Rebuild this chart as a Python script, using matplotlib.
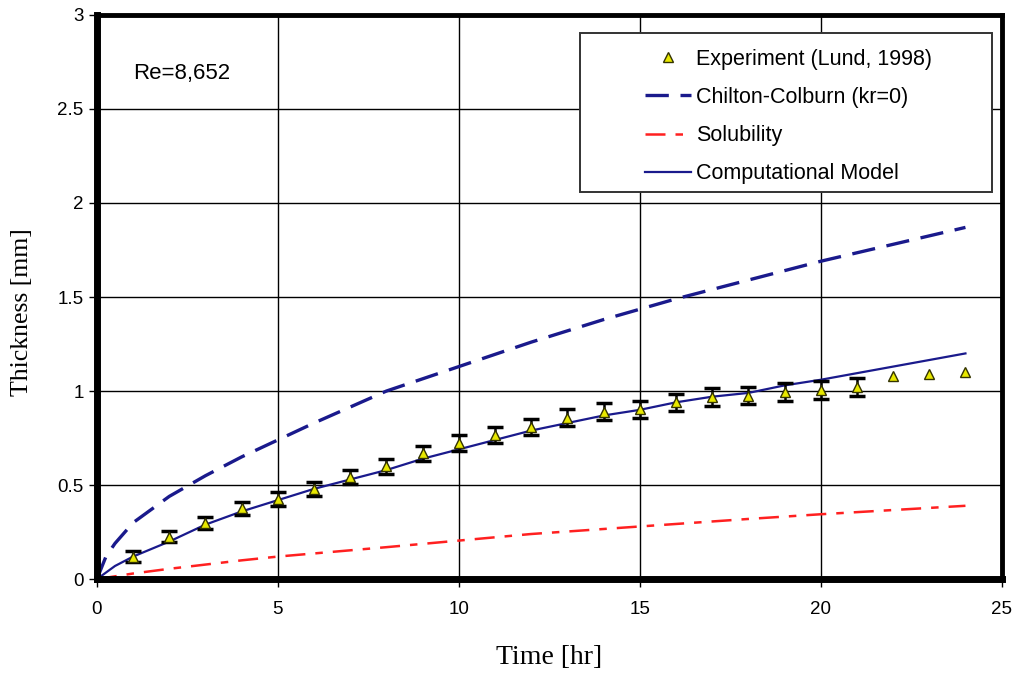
import numpy as np
import matplotlib.pyplot as plt
from matplotlib.patches import Rectangle

# experiment (Lund, 1998)
exp_t = [1, 2, 3, 4, 5, 6, 7, 8, 9, 10, 11, 12, 13, 14, 15, 16, 17, 18, 19, 20, 21, 22, 23, 24]
exp_y = [0.12, 0.225, 0.30, 0.376, 0.426, 0.479, 0.544, 0.60, 0.668, 0.722, 0.766, 0.81,
         0.858, 0.89, 0.904, 0.94, 0.968, 0.975, 0.996, 1.005, 1.02, 1.08, 1.09, 1.10]
exp_err = [0.028, 0.03, 0.032, 0.034, 0.036, 0.036, 0.038, 0.04, 0.04, 0.042, 0.042, 0.042,
           0.044, 0.044, 0.045, 0.046, 0.046, 0.046, 0.047, 0.047, 0.048, 0, 0, 0]

# Chilton-Colburn (kr=0)
cc_t = [0, 0.25, 0.5, 1, 2, 3, 4, 5, 6, 8, 10, 12, 14, 16, 18, 20, 22, 24]
cc_y = [0, 0.12, 0.19, 0.30, 0.44, 0.55, 0.65, 0.74, 0.83, 1.0, 1.13, 1.26, 1.38, 1.49, 1.59, 1.69, 1.78, 1.87]

# Solubility
sol_t = [0, 1, 2, 4, 5, 8, 10, 12, 15, 18, 20, 24]
sol_y = [0, 0.03, 0.055, 0.10, 0.12, 0.17, 0.205, 0.24, 0.28, 0.32, 0.345, 0.39]

# Computational model
mod_t = [0, 0.5, 1, 2, 3, 4, 5, 6, 7, 8, 9, 10, 11, 12, 13, 14, 15, 16, 17, 18, 19, 20, 21, 22, 23, 24]
mod_y = [0, 0.07, 0.12, 0.20, 0.29, 0.36, 0.42, 0.48, 0.53, 0.58, 0.64, 0.69, 0.74, 0.79, 0.83,
         0.87, 0.90, 0.94, 0.97, 0.99, 1.03, 1.06, 1.095, 1.13, 1.165, 1.20]

plt.rcParams['font.family'] = ['Liberation Sans', 'DejaVu Sans']

fig = plt.figure(figsize=(10.2, 6.75), dpi=100)
ax = fig.add_axes([0.095, 0.142, 0.887, 0.836])

ax.grid(True, color='black', linewidth=1.0)
ax.set_axisbelow(True)

ax.plot(cc_t, cc_y, color='#1a1a8c', linewidth=2.4, dashes=(7, 3.5), label='Chilton-Colburn (kr=0)')
ax.plot(sol_t, sol_y, color='#ff2020', linewidth=1.8, dashes=(8, 4, 3, 4), label='Solubility')
ax.plot(mod_t, mod_y, color='#1a1a8c', linewidth=1.6, label='Computational Model')

# error bars only where present
ebt = [t for t, e in zip(exp_t, exp_err) if e > 0]
eby = [y for y, e in zip(exp_y, exp_err) if e > 0]
ebe = [e for e in exp_err if e > 0]
ax.errorbar(ebt, eby, yerr=ebe, fmt='none', ecolor='black', elinewidth=1.8, capsize=5.5, capthick=2.5)
ax.plot(exp_t, exp_y, linestyle='none', marker='^', markersize=7, markerfacecolor='#e8e800',
        markeredgecolor='#333300', markeredgewidth=1.0, label='Experiment (Lund, 1998)')

ax.set_xlim(0, 25)
ax.set_ylim(0, 3)
ax.set_xticks([0, 5, 10, 15, 20, 25])
ax.set_yticks([0, 0.5, 1, 1.5, 2, 2.5, 3])
ax.set_yticklabels(['0', '0.5', '1', '1.5', '2', '2.5', '3'])
ax.tick_params(labelsize=13.5, direction='out', length=6, width=1, colors='black')
ax.tick_params(axis='x', pad=10)

for side, s in ax.spines.items():
    s.set_linewidth(5 if side in ('left', 'bottom') else 3.5)
    s.set_color('black')

ax.set_xlabel('Time [hr]', family=['Liberation Serif'], fontsize=20)
ax.xaxis.set_label_coords(0.5, -0.117)
ax.set_ylabel('Thickness [mm]', family=['Liberation Serif'], fontsize=18.5)
ax.yaxis.set_label_coords(-0.071, 0.473)

ax.text(1.0, 2.69, 'Re=8,652', fontsize=16, va='center')

# legend box drawn separately, it is much wider than the entries
ax.add_patch(Rectangle((0.5337, 0.686), 0.4553, 0.282, transform=ax.transAxes,
                       facecolor='white', edgecolor='#333333', linewidth=1.4, zorder=5))

handles, labels = ax.get_legend_handles_labels()
order = [3, 0, 1, 2]
leg = ax.legend([handles[i] for i in order], [labels[i] for i in order],
                loc='upper left', bbox_to_anchor=(0.6055, 0.94), fontsize=15.5,
                frameon=False, labelspacing=0.8, handlelength=2.15, handletextpad=0.25,
                borderpad=0, borderaxespad=0)
leg.set_zorder(6)

plt.savefig('out.png', dpi=100)
